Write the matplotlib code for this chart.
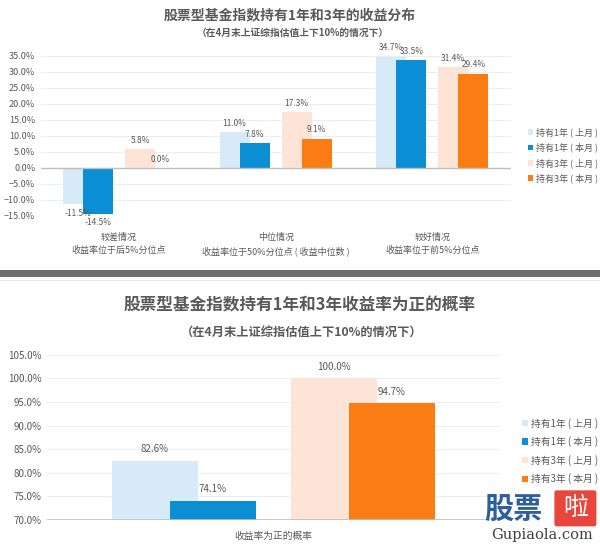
import numpy as np
import matplotlib.pyplot as plt
from matplotlib.patches import Rectangle, FancyBboxPatch
from matplotlib.ticker import PercentFormatter

plt.rcParams['font.family'] = ['Noto Sans CJK SC', 'DejaVu Sans']

# ---- data ----
series_names = ['持有1年 ( 上月 )', '持有1年 ( 本月 )', '持有3年 ( 上月 )', '持有3年 ( 本月 )']
colors = ['#D6EAF8', '#0B8ED3', '#FDE4D6', '#FA7C12']

top_categories = ['较差情况\n收益率位于后5%分位点',
                  '中位情况\n收益率位于50%分位点 ( 收益中位数 )',
                  '较好情况\n收益率位于前5%分位点']
ret_1y_last = [-11.5, 11.0, 34.7]
ret_1y_this = [-14.5, 7.8, 33.5]
ret_3y_last = [5.8, 17.3, 31.4]
ret_3y_this = [0.0, 9.1, 29.4]

bottom_categories = ['收益率为正的概率']
prob_1y_last = [82.6]
prob_1y_this = [74.1]
prob_3y_last = [100.0]
prob_3y_this = [94.7]

offsets = [-0.262, -0.134, 0.134, 0.262]
width = 0.19
grey = '#595959'

fig = plt.figure(figsize=(6, 5.46), dpi=100)


def draw(ax, cats, series, ylim, step, fs, lfs, pad):
    x = np.arange(len(cats))
    for vals, off, col, name in zip(series, offsets, colors, series_names):
        bars = ax.bar(x + off, vals, width, color=col, label=name, zorder=2)
        ax.bar_label(bars, labels=['%.1f%%' % v for v in vals], padding=pad,
                     fontsize=lfs, color=grey, clip_on=False, zorder=6)
    ax.set_xlim(-0.5, len(cats) - 0.5)
    ax.set_ylim(*ylim)
    ax.set_yticks(np.arange(ylim[0], ylim[1] + 0.01, step))
    ax.yaxis.set_major_formatter(PercentFormatter(decimals=1))
    ax.set_xticks(x)
    ax.set_xticklabels(cats, fontsize=fs, color=grey, linespacing=1.6)
    ax.tick_params(axis='y', labelsize=fs, colors=grey, length=0, pad=4)
    ax.tick_params(axis='x', length=0, pad=12)
    ax.grid(axis='y', color='#EEEEEE', linewidth=0.8, zorder=0)
    for s in ax.spines.values():
        s.set_visible(False)


# top chart
ax1 = fig.add_axes([0.068, 0.605, 0.783, 0.293])
draw(ax1, top_categories, [ret_1y_last, ret_1y_this, ret_3y_last, ret_3y_this],
     (-15, 35), 5, 6.5, 6, 3)
ax1.axhline(0, color='#BFBFBF', linewidth=1, zorder=3)
ax1.legend(loc='upper left', bbox_to_anchor=(0.872, 0.775), bbox_transform=fig.transFigure,
           frameon=False, fontsize=6.5, labelcolor=grey, handlelength=0.6, handleheight=0.6,
           handletextpad=0.3, labelspacing=0.62, borderpad=0)
fig.text(0.483, 0.972, '股票型基金指数持有1年和3年的收益分布', ha='center', va='center',
         fontsize=10, fontweight='bold', color=grey)
fig.text(0.487, 0.94, '（在4月末上证综指估值上下10%的情况下）', ha='center', va='center',
         fontsize=7, fontweight='bold', color=grey)

# bottom chart
ax2 = fig.add_axes([0.078, 0.0476, 0.755, 0.3024])
draw(ax2, bottom_categories, [prob_1y_last, prob_1y_this, prob_3y_last, prob_3y_this],
     (70, 105), 5, 7, 7, 4.5)
ax2.axhline(70, color='#BFBFBF', linewidth=1.2, zorder=3)
ax2.tick_params(axis='x', pad=8)
ax2.legend(loc='upper left', bbox_to_anchor=(0.862, 0.244), bbox_transform=fig.transFigure,
           frameon=False, fontsize=7, labelcolor=grey, handlelength=0.6, handleheight=0.6,
           handletextpad=0.3, labelspacing=0.78, borderpad=0)
fig.text(0.5, 0.44, '股票型基金指数持有1年和3年收益率为正的概率', ha='center', va='center',
         fontsize=12, fontweight='bold', color=grey)
fig.text(0.502, 0.39, '（在4月末上证综指估值上下10%的情况下）', ha='center', va='center',
         fontsize=8.8, fontweight='bold', color=grey)

# separator band between the two panels
fig.patches.append(Rectangle((0, 1 - 277 / 546), 1, 7 / 546, transform=fig.transFigure,
                             facecolor='#6E6E6E', edgecolor='none'))
fig.patches.append(Rectangle((0, 1 - 281 / 546), 1, 1.5 / 546, transform=fig.transFigure,
                             facecolor='#E6E6E6', edgecolor='none'))

# watermark
fig.text(0.807, 0.068, '股票', fontsize=21, fontweight='heavy', color='#2E5E9E',
         ha='left', va='center')
fig.patches.append(FancyBboxPatch((0.928, 0.04), 0.062, 0.058, transform=fig.transFigure,
                                  boxstyle='round,pad=0.004', facecolor='#E8453C',
                                  edgecolor='none'))
fig.text(0.959, 0.069, '啦', fontsize=18, color='white', ha='center', va='center')
fig.text(0.903, 0.02, 'Gupiaola.com', fontsize=10.5, family='DejaVu Serif', color='#404040',
         ha='center', va='center')

fig.savefig('out.png', dpi=100)
